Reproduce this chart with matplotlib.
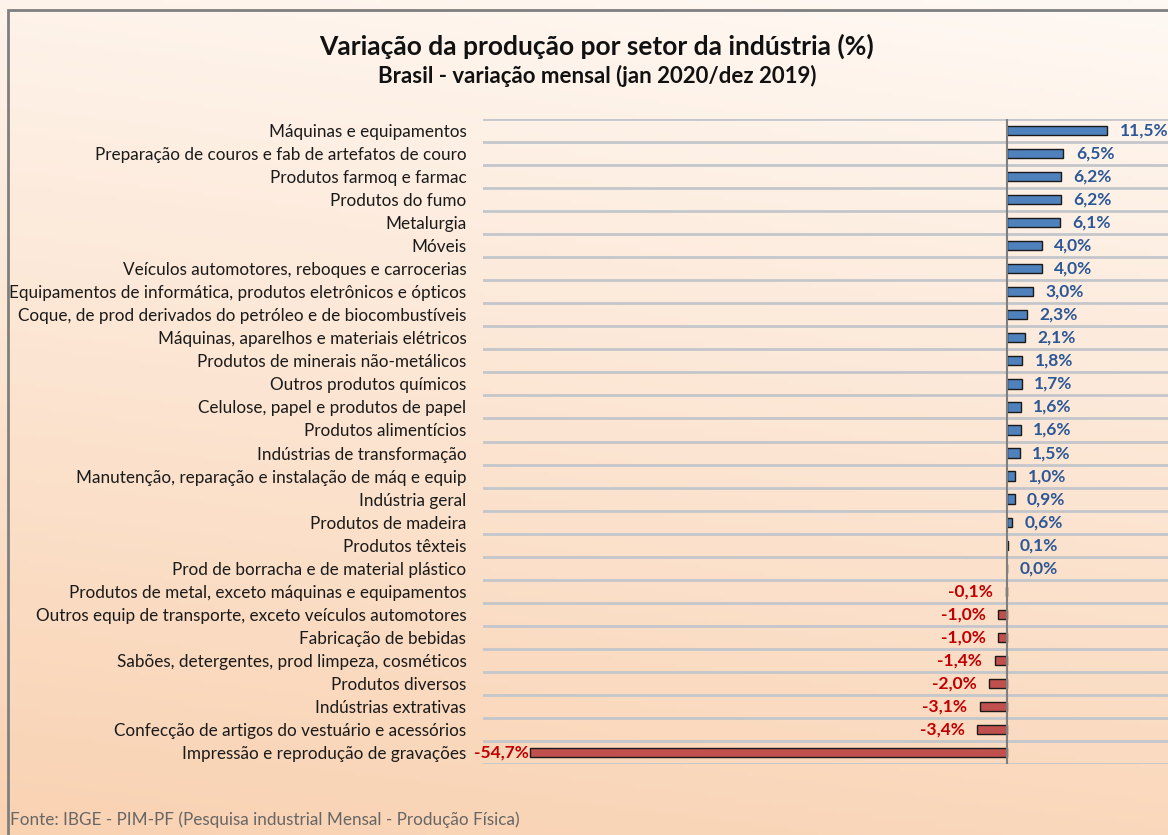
import numpy as np
import matplotlib
matplotlib.use("Agg")
import matplotlib.pyplot as plt
from matplotlib.colors import LinearSegmentedColormap
from matplotlib.patches import Rectangle

# Data (top to bottom as in the chart)
setores = [
    "Máquinas e equipamentos",
    "Preparação de couros e fab de artefatos de couro",
    "Produtos farmoq e farmac",
    "Produtos do fumo",
    "Metalurgia",
    "Móveis",
    "Veículos automotores, reboques e carrocerias",
    "Equipamentos de informática, produtos eletrônicos e ópticos",
    "Coque, de prod derivados do petróleo e de biocombustíveis",
    "Máquinas, aparelhos e materiais elétricos",
    "Produtos de minerais não-metálicos",
    "Outros produtos químicos",
    "Celulose, papel e produtos de papel",
    "Produtos alimentícios",
    "Indústrias de transformação",
    "Manutenção, reparação e instalação de máq e equip",
    "Indústria geral",
    "Produtos de madeira",
    "Produtos têxteis",
    "Prod de borracha e de material plástico",
    "Produtos de metal, exceto máquinas e equipamentos",
    "Outros equip de transporte, exceto veículos automotores",
    "Fabricação de bebidas",
    "Sabões, detergentes, prod limpeza, cosméticos",
    "Produtos diversos",
    "Indústrias extrativas",
    "Confecção de artigos do vestuário e acessórios",
    "Impressão e reprodução de gravações",
]
variacao = [11.5, 6.5, 6.2, 6.2, 6.1, 4.0, 4.0, 3.0, 2.3, 2.1, 1.8, 1.7, 1.6, 1.6,
            1.5, 1.0, 0.9, 0.6, 0.1, 0.0, -0.1, -1.0, -1.0, -1.4, -2.0, -3.1, -3.4, -54.7]

titulo = "Variação da produção por setor da indústria (%)"
subtitulo = "Brasil - variação mensal (jan 2020/dez 2019)"
fonte = "Fonte: IBGE - PIM-PF (Pesquisa industrial Mensal - Produção Física)"

AZUL = "#4F81BD"
VERMELHO = "#C0504D"
TXT_AZUL = "#2B5797"
TXT_VERMELHO = "#C00000"

plt.rcParams["font.family"] = ["Lato", "DejaVu Sans"]

fig = plt.figure(figsize=(11.68, 8.35), dpi=100)

# background gradient
bg = fig.add_axes([0, 0, 1, 1], zorder=-10)
yy, xx = np.mgrid[0:1:200j, 0:1:200j]
t = 0.85 * yy + 0.15 * (1 - xx)
cmap = LinearSegmentedColormap.from_list("pessego", ["#FFF9F4", "#F9D2B2"])
bg.imshow(t, cmap=cmap, aspect="auto", extent=[0, 1, 0, 1], origin="upper")
bg.axis("off")
bg.add_patch(Rectangle((8 / 1168, -0.1), 1.2, 1 - 10 / 835 + 0.1, transform=fig.transFigure,
                       fill=False, edgecolor="#7F7F7F", linewidth=2, clip_on=False))

ax = fig.add_axes([483 / 1168, 71 / 835, (1181 - 483) / 1168, (764 - 119) / 835])
ax.set_facecolor("none")

n = len(setores)
y = np.arange(n)
vals = np.array(variacao)
cores = [AZUL if v >= 0 else VERMELHO for v in vals]
ax.barh(y, vals, height=0.4, color=cores, edgecolor="#1a1a1a", linewidth=1, zorder=3)

ax.set_xlim(-60.1, 20)
ax.set_ylim(n - 0.5, -0.5)
ax.set_yticks(y)
ax.set_yticklabels(setores, fontsize=12.3, color="#1a1a1a")
ax.tick_params(axis="y", length=0, pad=12)
ax.set_xticks([])
for s in ax.spines.values():
    s.set_visible(False)

# gridlines at category boundaries
for b in np.arange(-0.5, n, 1.0):
    ax.axhline(b, color="#C3C6CB", linewidth=2, zorder=1)
ax.axvline(0, color="#7F7F7F", linewidth=1.5, zorder=4)

xmin = ax.get_xlim()[0]
for yi, v in zip(y, vals):
    txt = f"{v:.1f}%".replace(".", ",")
    if v >= 0:
        ax.annotate(txt, (v, yi), xytext=(9, 0), textcoords="offset points",
                    ha="left", va="center", fontsize=12.5, fontweight="bold", color=TXT_AZUL)
    else:
        off = -9 if v > xmin + 10 else -1
        ax.annotate(txt, (v, yi), xytext=(off, 0), textcoords="offset points",
                    ha="right", va="center", fontsize=12.5, fontweight="bold", color=TXT_VERMELHO)

fig.text(597 / 1168, 1 - 46 / 835, titulo, ha="center", va="center",
         fontsize=19, fontweight="bold", color="#111111")
fig.text(597 / 1168, 1 - 76 / 835, subtitulo, ha="center", va="center",
         fontsize=16, fontweight="bold", color="#111111")
fig.text(10 / 1168, 1 - 820 / 835, fonte, ha="left", va="center",
         fontsize=12.3, color="#666666")

fig.savefig("out.png", dpi=100)
